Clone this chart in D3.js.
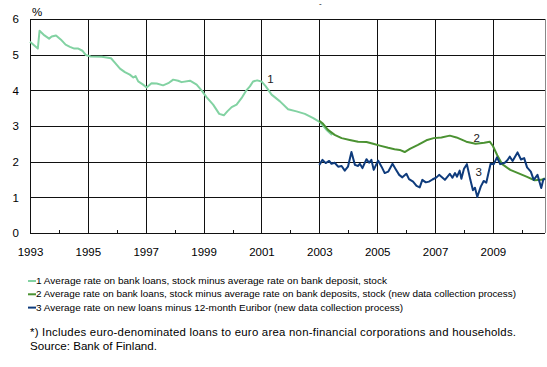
<!DOCTYPE html>
<html><head><meta charset="utf-8">
<script src="https://cdn.jsdelivr.net/npm/d3@7"></script>
<style>
body{margin:0;background:#fff;}
svg{display:block;font-family:"Liberation Sans",Arial,sans-serif;}
</style></head>
<body><svg id="c" width="547" height="367"></svg>
<script>
const yTicks = [0,1,2,3,4,5,6];
const xLabelYears = [1993,1995,1997,1999,2001,2003,2005,2007,2009];
const xMinorYears = [1994,1996,1998,2000,2002,2004,2006,2008,2010];

const s1Years = [1993.0,1993.27,1993.33,1993.5,1993.66,1993.75,1993.9,1994.07,1994.23,1994.38,1994.53,1994.67,1994.81,1994.93,1995.1,1995.48,1995.8,1995.94,1996.11,1996.28,1996.45,1996.57,1996.65,1996.74,1996.91,1997.03,1997.2,1997.38,1997.6,1997.78,1997.95,1998.12,1998.24,1998.53,1998.76,1998.93,1999.1,1999.33,1999.54,1999.7,1999.82,1999.97,2000.14,2000.31,2000.48,2000.6,2000.71,2000.85,2001.0,2001.15,2001.35,2001.64,2001.92,2002.21,2002.5,2002.79,2003.02,2003.25,2003.44];
const s1Values = [5.36,5.17,5.67,5.54,5.45,5.51,5.54,5.42,5.28,5.22,5.17,5.17,5.11,4.99,4.95,4.94,4.9,4.77,4.61,4.51,4.44,4.36,4.4,4.25,4.16,4.08,4.2,4.19,4.14,4.2,4.3,4.27,4.23,4.27,4.16,4.0,3.81,3.6,3.34,3.3,3.41,3.53,3.6,3.78,4.0,4.11,4.25,4.28,4.25,4.11,3.88,3.69,3.47,3.41,3.34,3.22,3.11,2.89,2.75];

const s2Years = [2003.0,2003.13,2003.3,2003.53,2003.77,2004.05,2004.34,2004.63,2004.86,2005.09,2005.38,2005.6,2005.78,2005.95,2006.13,2006.41,2006.7,2006.95,2007.22,2007.51,2007.74,2008.08,2008.4,2008.7,2008.89,2009.0,2009.15,2009.32,2009.6,2009.87,2010.16,2010.44,2010.67,2010.79];
const s2Values = [3.15,3.06,2.89,2.75,2.66,2.61,2.56,2.55,2.5,2.45,2.39,2.35,2.33,2.27,2.36,2.47,2.6,2.66,2.68,2.73,2.68,2.56,2.5,2.53,2.56,2.44,2.18,1.93,1.77,1.68,1.58,1.48,1.49,1.53];

const s3Years = [2003.0,2003.11,2003.22,2003.34,2003.42,2003.53,2003.65,2003.77,2003.88,2003.99,2004.11,2004.23,2004.34,2004.4,2004.49,2004.63,2004.72,2004.8,2004.88,2005.03,2005.15,2005.26,2005.38,2005.53,2005.64,2005.76,2005.87,2006.01,2006.1,2006.24,2006.36,2006.47,2006.56,2006.68,2006.79,2006.91,2007.05,2007.14,2007.34,2007.51,2007.6,2007.69,2007.76,2007.85,2007.91,2008.0,2008.1,2008.22,2008.31,2008.38,2008.46,2008.58,2008.68,2008.77,2008.84,2008.92,2009.03,2009.14,2009.25,2009.41,2009.5,2009.58,2009.68,2009.85,2009.97,2010.08,2010.18,2010.31,2010.41,2010.54,2010.67,2010.74,2010.8];
const s3Values = [1.91,2.05,1.96,2.02,1.94,1.97,1.86,1.88,1.75,1.86,2.27,1.91,1.88,1.94,1.82,2.07,1.97,2.05,1.77,2.03,1.86,1.68,1.72,1.94,1.79,1.63,1.56,1.66,1.51,1.44,1.32,1.28,1.49,1.42,1.44,1.5,1.56,1.63,1.49,1.66,1.55,1.68,1.58,1.75,1.52,1.8,1.93,1.49,1.2,1.27,1.01,1.3,1.46,1.41,1.66,1.94,1.93,2.12,1.93,1.97,2.04,2.14,2.02,2.26,2.06,2.1,1.84,1.72,1.49,1.63,1.26,1.49,1.53];

const seriesNames = [
  "1 Average rate on bank loans, stock minus average rate on bank deposit, stock",
  "2 Average rate on bank loans, stock minus average rate on bank deposits, stock (new data collection process)",
  "3 Average rate on new loans minus 12-month Euribor (new data collection process)"
];
const seriesColors = ["#82d2a2","#4b9232","#0e3b7c"];
const lineLabels = ["1","2","3"];
const footnote = "*) Includes euro-denominated loans to euro area non-financial corporations and households.";
const source = "Source: Bank of Finland.";

const svg = d3.select("#c");
const x = d3.scaleLinear().domain([1993, 2010.8]).range([30, 545]);
const y = d3.scaleLinear().domain([0, 6]).range([233, 19]);

// horizontal gridlines
svg.append("g").selectAll("line").data(yTicks).join("line")
  .attr("x1", x(1993)).attr("x2", x(2010.8))
  .attr("y1", d => Math.round(y(d)) + 0.5).attr("y2", d => Math.round(y(d)) + 0.5)
  .attr("stroke", "#111").attr("stroke-width", 1);
// vertical gridlines
svg.append("g").selectAll("line").data(xLabelYears).join("line")
  .attr("x1", d => Math.round(x(d)) + 0.5).attr("x2", d => Math.round(x(d)) + 0.5)
  .attr("y1", y(6)).attr("y2", y(0))
  .attr("stroke", "#111").attr("stroke-width", 1);
// right border
svg.append("line").attr("x1", Math.round(x(2010.8)) + 0.5).attr("x2", Math.round(x(2010.8)) + 0.5)
  .attr("y1", y(6)).attr("y2", y(0)).attr("stroke", "#888");
// minor ticks
svg.append("g").selectAll("line").data(xMinorYears).join("line")
  .attr("x1", d => Math.round(x(d)) + 0.5).attr("x2", d => Math.round(x(d)) + 0.5)
  .attr("y1", y(0) - 3).attr("y2", y(0))
  .attr("stroke", "#111");

// y axis labels
const yAxis = d3.axisLeft(y).tickValues(yTicks).tickSize(0).tickPadding(11).tickFormat(d3.format("d"));
svg.append("g").attr("transform", `translate(${x(1993)},0)`).call(yAxis)
  .call(g => g.select(".domain").remove())
  .selectAll("text").attr("font-size", 11.5).attr("fill", "#000").attr("font-family", "Liberation Sans, Arial");
// x axis labels
const xAxis = d3.axisBottom(x).tickValues(xLabelYears).tickSize(0).tickPadding(15).tickFormat(d3.format("d"));
svg.append("g").attr("transform", `translate(0,${y(0)})`).call(xAxis)
  .call(g => g.select(".domain").remove())
  .selectAll("text").attr("font-size", 11.5).attr("fill", "#000").attr("font-family", "Liberation Sans, Arial");

svg.append("text").attr("x", 32).attr("y", 16).attr("font-size", 11.5).text("%");
svg.append("text").attr("x", 319).attr("y", 6).attr("font-size", 8).text("-");

const line = d3.line().x(d => x(d[0])).y(d => y(d[1]));
const allSeries = [
  d3.zip(s1Years, s1Values),
  d3.zip(s2Years, s2Values),
  d3.zip(s3Years, s3Values)
];
allSeries.forEach((data, i) => {
  svg.append("path").datum(data).attr("d", line)
    .attr("fill", "none").attr("stroke", seriesColors[i])
    .attr("stroke-width", 2).attr("stroke-linejoin", "round");
});

// line labels
const labelPos = [[2001.2, 4.2], [2008.33, 2.55], [2008.4, 1.6]];
svg.append("g").selectAll("text").data(labelPos).join("text")
  .attr("x", d => x(d[0])).attr("y", d => y(d[1]))
  .attr("font-size", 11.5).attr("fill", "#222")
  .text((d, i) => lineLabels[i]);

// legend
const leg = svg.append("g");
seriesNames.forEach((name, i) => {
  const ly = 281 + i * 13.3;
  leg.append("line").attr("x1", 28).attr("x2", 36).attr("y1", ly).attr("y2", ly)
    .attr("stroke", seriesColors[i]).attr("stroke-width", 2);
  leg.append("text").attr("x", 36).attr("y", ly + 3)
    .attr("font-size", 9.3).attr("fill", "#000").text(name);
});
const targetW = [351, 480, 367];
leg.selectAll("text").each(function(d, i) {
  d3.select(this).attr("textLength", targetW[i]).attr("lengthAdjust", "spacingAndGlyphs");
});

svg.append("text").attr("x", 30).attr("y", 336).attr("font-size", 11.4)
  .attr("textLength", 486).attr("lengthAdjust", "spacing").text(footnote);
svg.append("text").attr("x", 30).attr("y", 350).attr("font-size", 11.6).text(source);
</script></body></html>
